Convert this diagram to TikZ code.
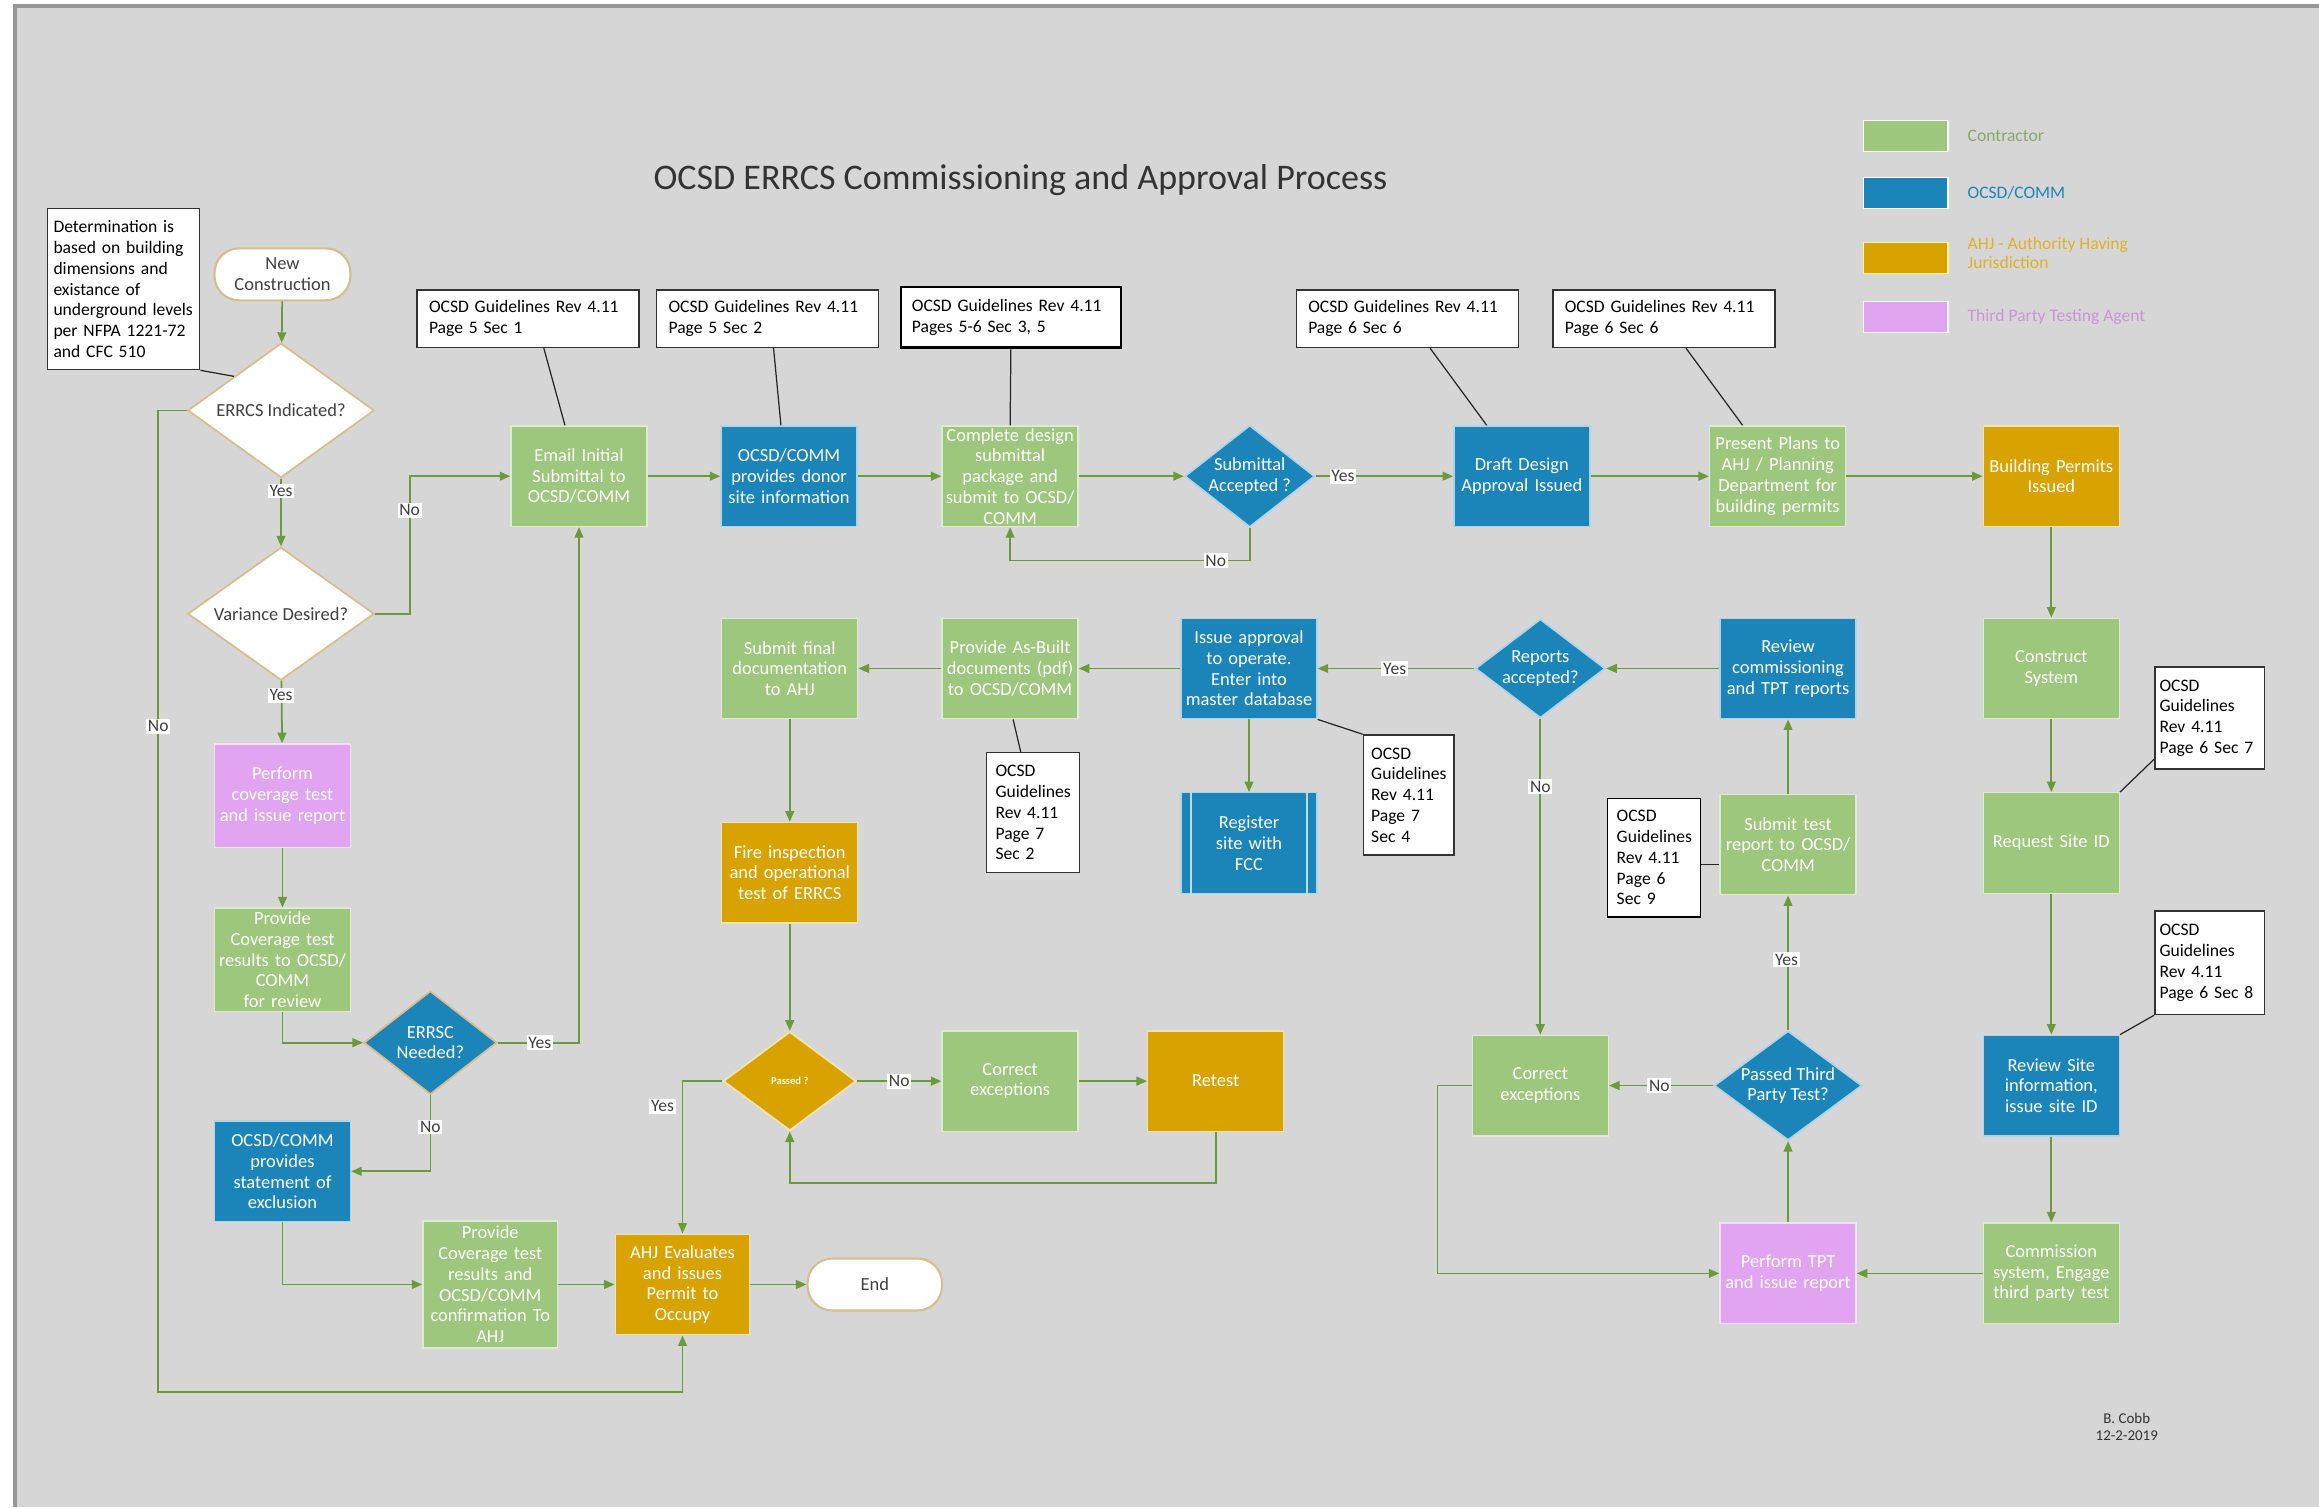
\documentclass[tikz,border=0pt]{standalone}
\usepackage{fontspec}
\setmainfont{Carlito}
\usepackage{xcolor}
\usepackage{tikz}
\usetikzlibrary{shapes}
\usetikzlibrary{positioning}
\usetikzlibrary{arrows.meta}
\definecolor{panel}{RGB}{214,214,214}
\definecolor{framegray}{RGB}{150,150,150}
\definecolor{contr}{RGB}{157,199,124}
\definecolor{ocsd}{RGB}{27,133,186}
\definecolor{ahj}{RGB}{216,163,0}
\definecolor{tpt}{RGB}{225,164,240}
\definecolor{sand}{RGB}{217,188,140}
\definecolor{flowgreen}{RGB}{106,154,58}
\definecolor{inkgray}{RGB}{64,64,64}

\begin{document}
\begin{tikzpicture}[
	x=0.02958cm, y=-0.02958cm,
	thick
]
\tikzset{
    box/.style = {rectangle, align=center, text=white, minimum width=2.72cm, minimum height=2.01cm, text width=2.62cm, inner sep=0pt, line width=0.8pt, font=\fontsize{10.5}{11.8}\selectfont},
    contractor/.style = {box, fill=contr, draw=contr!35!white},
    ocsdbox/.style = {box, fill=ocsd, draw=ocsd!35!white},
    ahjbox/.style = {box, fill=ahj, draw=ahj!30!white},
    tptbox/.style = {box, fill=tpt, draw=tpt!35!white},
    decision/.style = {diamond, aspect=1.3, align=center, inner sep=0pt, line width=1pt, font=\fontsize{10.5}{11.8}\selectfont},
    terminal/.style = {rectangle, rounded corners=14pt, fill=white, draw=sand, line width=1.2pt, text=inkgray, minimum width=2.72cm, minimum height=1.04cm, align=center, font=\fontsize{10.5}{11.8}\selectfont},
    note/.style = {rectangle, fill=white, draw=black!80, line width=0.8pt, align=left, text=black, inner sep=0pt, font=\fontsize{10}{11.8}\selectfont},
    swatch/.style = {rectangle, minimum width=1.69cm, minimum height=0.62cm, inner sep=0pt, line width=0.8pt},
    lgtext/.style = {anchor=west, align=left, font=\fontsize{10}{10.5}\selectfont},
    lbl/.style = {fill=white, text=inkgray, inner sep=1pt, font=\fontsize{10}{11}\selectfont},
    flow/.style = {draw=flowgreen, line width=1pt, -{Triangle[length=6pt,width=5pt]}},
    link/.style = {draw=black!85, line width=0.7pt},
}
\useasboundingbox (0,0) rectangle (1568,1019);
\fill[white] (0,0) rectangle (1568,1019);
\fill[panel] (10,4) rectangle (1568,1019);
\draw[framegray, line width=2pt] (10,1019) -- (10,4) -- (1568,4);

\node (title) [text=black!80, font=\fontsize{20.5}{24}\selectfont] at (690,122) {OCSD ERRCS Commissioning and Approval Process};

% legend
\node (lgC) [swatch, fill=contr, draw=white] at (1288.5,92) {};
\node (lgO) [swatch, fill=ocsd, draw=white] at (1288.5,130.5) {};
\node (lgA) [swatch, fill=ahj, draw=white!60!yellow] at (1288.5,174.5) {};
\node (lgT) [swatch, fill=tpt, draw=white] at (1288.5,214.5) {};
\node (lgCt) [lgtext, text=contr!85!black] at (1326,92) {Contractor};
\node (lgOt) [lgtext, text=ocsd] at (1326,130.5) {OCSD/COMM};
\node (lgAt) [lgtext, text=ahj!85!white] at (1326,171) {AHJ - Authority Having\\Jurisdiction};
\node (lgTt) [lgtext, text=tpt!90!black] at (1326,214.5) {Third Party Testing Agent};

% notes
\node (nDet) [note, minimum width=3.05cm, minimum height=3.22cm, text width=2.8cm] at (83.5,195.5) {Determination is\\based on building\\dimensions and\\existance of\\underground levels\\per NFPA 1221-72\\and CFC 510};
\node (n1) [note, minimum width=4.44cm, minimum height=1.15cm, text width=3.96cm] at (357,215.5) {OCSD Guidelines Rev 4.11\\Page 5 Sec 1};
\node (n2) [note, minimum width=4.44cm, minimum height=1.15cm, text width=3.96cm] at (519,215.5) {OCSD Guidelines Rev 4.11\\Page 5 Sec 2};
\node (n3) [note, draw=black, line width=1.2pt, minimum width=4.41cm, minimum height=1.21cm, text width=3.96cm] at (683.5,214.5) {OCSD Guidelines Rev 4.11\\Pages 5-6 Sec 3, 5};
\node (n4) [note, minimum width=4.44cm, minimum height=1.15cm, text width=3.96cm] at (951.5,215.5) {OCSD Guidelines Rev 4.11\\Page 6 Sec 6};
\node (n5) [note, minimum width=4.44cm, minimum height=1.15cm, text width=3.96cm] at (1125,215.5) {OCSD Guidelines Rev 4.11\\Page 6 Sec 6};
\node (n6) [note, minimum width=1.86cm, minimum height=2.40cm, text width=1.5cm] at (698.5,549.5) {OCSD\\Guidelines\\Rev 4.11\\Page 7\\Sec 2};
\node (n7) [note, minimum width=1.81cm, minimum height=2.40cm, text width=1.5cm] at (952.5,537.5) {OCSD\\Guidelines\\Rev 4.11\\Page 7\\Sec 4};
\node (n8) [note, draw=black, minimum width=1.86cm, minimum height=2.37cm, text width=1.5cm] at (1118.5,580) {OCSD\\Guidelines\\Rev 4.11\\Page 6\\Sec 9};
\node (n9) [note, minimum width=2.19cm, minimum height=2.04cm, text width=2.0cm] at (1494,485.5) {OCSD\\Guidelines\\Rev 4.11\\Page 6 Sec 7};
\node (n10) [note, minimum width=2.19cm, minimum height=2.07cm, text width=2.0cm] at (1494,651) {OCSD\\Guidelines\\Rev 4.11\\Page 6 Sec 8};

% left column
\node (newc) [terminal] at (191,185.5) {New\\Construction};
\node (indicated) [decision, fill=white, draw=sand, text=inkgray, minimum width=3.73cm, minimum height=2.69cm] at (190,277.5) {ERRCS Indicated?};
\node (variance) [decision, fill=white, draw=sand, text=inkgray, minimum width=3.73cm, minimum height=2.66cm] at (190,415) {Variance Desired?};
\node (coverage) [tptbox, minimum height=2.07cm] at (191,538) {Perform\\coverage test\\and issue report};
\node (results) [contractor, minimum height=2.07cm] at (191,649) {Provide\\Coverage test\\results to OCSD/\\COMM\\for review};
\node (needed) [decision, fill=ocsd, draw=sand, text=white, minimum width=2.66cm, minimum height=2.07cm] at (291,705) {ERRSC\\Needed?};
\node (exclusion) [ocsdbox] at (191,792) {OCSD/COMM\\provides\\statement of\\exclusion};
\node (confirm) [contractor, minimum width=2.69cm, minimum height=2.54cm] at (331.5,868.5) {Provide\\Coverage test\\results and\\OCSD/COMM\\confirmation To\\AHJ};
\node (evaluates) [ahjbox, minimum width=2.69cm] at (461.5,868.5) {AHJ Evaluates\\and issues\\Permit to\\Occupy};
\node (endnode) [terminal, minimum width=2.69cm] at (591.5,868.5) {End};

% top row
\node (email) [contractor] at (391.5,322) {Email Initial\\Submittal to\\OCSD/COMM};
\node (donor) [ocsdbox] at (533.5,322) {OCSD/COMM\\provides donor\\site information};
\node (design) [contractor] at (683,322) {Complete design\\submittal\\package and\\submit to OCSD/\\COMM};
\node (accepted) [decision, fill=ocsd, draw=ocsd!35!white, text=white, minimum width=2.57cm, minimum height=2.04cm] at (845,322) {Submittal\\Accepted ?};
\node (draft) [ocsdbox] at (1029,322) {Draft Design\\Approval Issued};
\node (present) [contractor] at (1202,322) {Present Plans to\\AHJ / Planning\\Department for\\building permits};
\node (permits) [ahjbox] at (1387,322) {Building Permits\\Issued};

% middle
\node (final) [contractor] at (534,452) {Submit final\\documentation\\to AHJ};
\node (asbuilt) [contractor] at (683,452) {Provide As-Built\\documents (pdf)\\to OCSD/COMM};
\node (issue) [ocsdbox] at (844.5,452) {Issue approval\\to operate.\\Enter into\\master database};
\node (reports) [decision, fill=ocsd, draw=ocsd!35!white, text=white, minimum width=2.6cm, minimum height=1.98cm] at (1041.5,452) {Reports\\accepted?};
\node (review) [ocsdbox] at (1209,452) {Review\\commissioning\\and TPT reports};
\node (fcc) [ocsdbox] at (844.5,570) {Register\\site with\\FCC};
\draw[white!70!ocsd, line width=0.8pt] ([xshift=6pt]fcc.north west) -- ([xshift=6pt]fcc.south west);
\draw[white!70!ocsd, line width=0.8pt] ([xshift=-6pt]fcc.north east) -- ([xshift=-6pt]fcc.south east);
\node (fire) [ahjbox] at (534,590) {Fire inspection\\and operational\\test of ERRCS};
\node (passed) [decision, fill=ahj, draw=ahj!30!white, text=white!85!yellow, minimum width=2.66cm, minimum height=1.98cm, font=\bfseries\fontsize{6}{7}\selectfont] at (534,731) {Passed ?};
\node (correctL) [contractor] at (683,731) {Correct\\exceptions};
\node (retest) [ahjbox] at (822,731) {Retest};

% right
\node (construct) [contractor] at (1387,452) {Construct\\System};
\node (request) [contractor] at (1387,570) {Request Site ID};
\node (sitereview) [ocsdbox] at (1387,734) {Review Site\\information,\\issue site ID};
\node (commission) [contractor] at (1387,861) {Commission\\system, Engage\\third party test};
\node (perform) [tptbox] at (1209,861) {Perform TPT\\and issue report};
\node (passedtpt) [decision, fill=ocsd, draw=ocsd!35!white, text=white, minimum width=2.96cm, minimum height=2.19cm] at (1209,734) {Passed Third\\Party Test?};
\node (correctR) [contractor] at (1041.5,734) {Correct\\exceptions};
\node (submittest) [contractor] at (1209,571) {Submit test\\report to OCSD/\\COMM};

\node (sig) [text=black!80, align=center, font=\fontsize{8.5}{9.5}\selectfont] at (1438,965) {B. Cobb\\12-2-2019};

% note links
\draw[link] (nDet.south east) -- (indicated.north west);
\draw[link] ([xshift=9pt]n1.south) -- ([xshift=-8pt]email.north);
\draw[link] ([xshift=3.4pt]n2.south) -- ([xshift=-4.6pt]donor.north);
\draw[link] (n3.south) -- (design.north);
\draw[link] ([xshift=13pt]n4.south) -- ([xshift=-20pt]draft.north);
\draw[link] ([xshift=12.6pt]n5.south) -- ([xshift=-20pt]present.north);
\draw[link] ([xshift=1.7pt]asbuilt.south) -- ([xshift=-7pt]n6.north);
\draw[link] (issue.south east) -- (n7.north west);
\draw[link] ([yshift=-4pt]n8.east) -- ([yshift=-4pt]n8.east -| submittest.west);
\draw[link] (request.north east) -- ([yshift=6pt]n9.south west);
\draw[link] (sitereview.north east) -- (n10.south west);

% flow
\draw[flow] (newc) -- (indicated);
\draw[flow] (indicated) -- (variance);
\draw[flow] (indicated.west) -| (107,941) -| (evaluates.south);
\draw[flow] (variance.east) -- (277,415) |- (email.west);
\draw[flow] (variance) -- (coverage);
\draw[flow] (coverage) -- (results);
\draw[flow] (results.south) |- (needed.west);
\draw[flow] (needed.east) -| (email.south);
\draw[flow] (needed.south) |- (exclusion.east);
\draw[flow] (exclusion.south) |- (confirm.west);
\draw[flow] (confirm) -- (evaluates);
\draw[flow] (evaluates) -- (endnode);
\draw[flow] (email) -- (donor);
\draw[flow] (donor) -- (design);
\draw[flow] (design) -- (accepted);
\draw[flow] (accepted) -- (draft);
\draw[flow] (accepted.south) -- (845,379) -| (design.south);
\draw[flow] (draft) -- (present);
\draw[flow] (present) -- (permits);
\draw[flow] (permits) -- (construct);
\draw[flow] (construct) -- (request);
\draw[flow] (request) -- (sitereview);
\draw[flow] (sitereview) -- (commission);
\draw[flow] (commission) -- (perform);
\draw[flow] (perform) -- (passedtpt);
\draw[flow] (passedtpt) -- (submittest);
\draw[flow] (submittest) -- (review);
\draw[flow] (review) -- (reports);
\draw[flow] (reports) -- (issue);
\draw[flow] (reports) -- (correctR);
\draw[flow] (passedtpt) -- (correctR);
\draw[flow] (correctR.west) -- (972,734) |- (perform.west);
\draw[flow] (issue) -- (asbuilt);
\draw[flow] (asbuilt) -- (final);
\draw[flow] (issue) -- (fcc);
\draw[flow] (final) -- (fire);
\draw[flow] (fire) -- (passed);
\draw[flow] (passed) -- (correctL);
\draw[flow] (correctL) -- (retest);
\draw[flow] (retest.south) -- (822,800) -| (passed.south);
\draw[flow] (passed.west) -| (evaluates.north);

% yes / no
\node (l1) [lbl] at (190,332) {Yes};
\node (l2) [lbl] at (107,491) {No};
\node (l3) [lbl] at (277,345) {No};
\node (l4) [lbl] at (190,470) {Yes};
\node (l5) [lbl] at (365,705) {Yes};
\node (l6) [lbl] at (291,762) {No};
\node (l7) [lbl] at (908,322) {Yes};
\node (l8) [lbl] at (822,379) {No};
\node (l9) [lbl] at (943,452) {Yes};
\node (l10) [lbl] at (1041.5,532) {No};
\node (l11) [lbl] at (1208,649) {Yes};
\node (l12) [lbl] at (1122,734) {No};
\node (l13) [lbl] at (608,731) {No};
\node (l14) [lbl] at (448,748) {Yes};

\end{tikzpicture}
\end{document}
